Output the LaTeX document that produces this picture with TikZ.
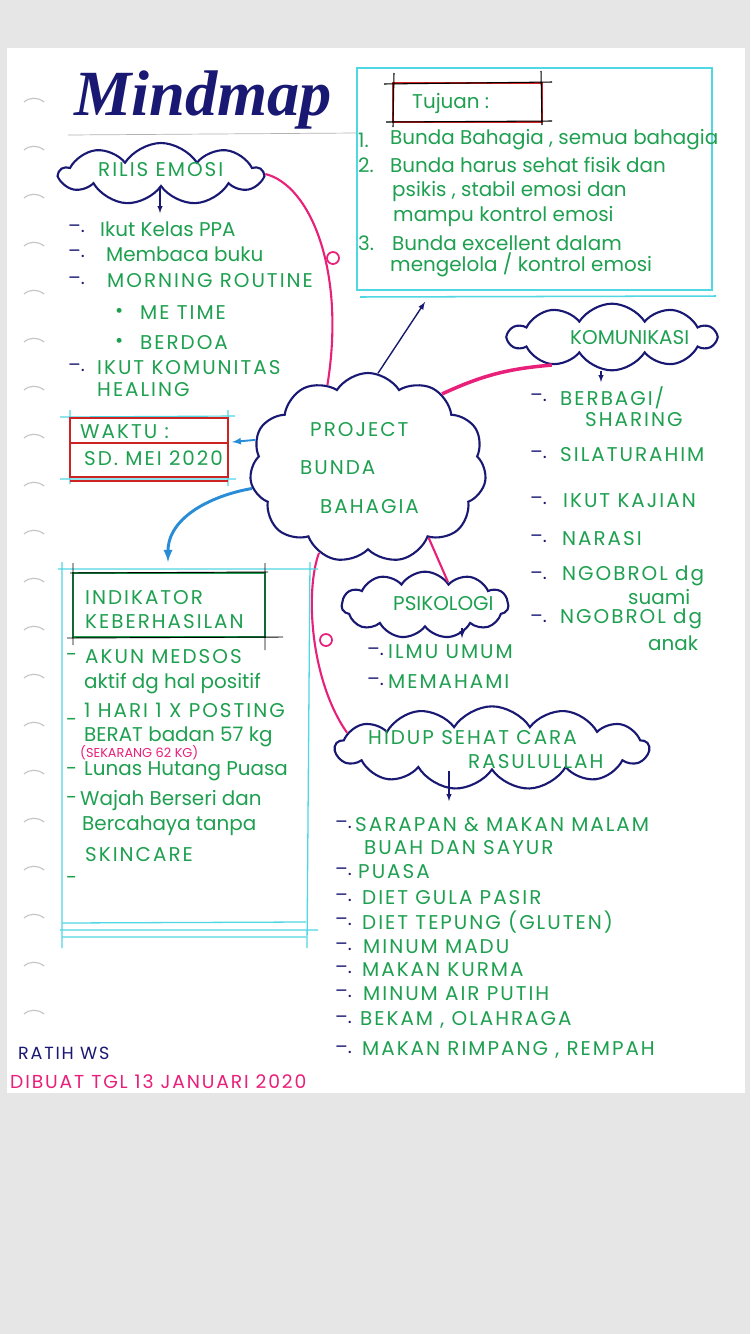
\documentclass[tikz,border=0pt]{standalone}
\usepackage{fontspec}
\setmainfont{Poppins}
\newfontfamily\judulfont{Liberation Serif}
\usetikzlibrary{shapes,arrows,positioning,calc}

\definecolor{hijau}{RGB}{30,160,80}
\definecolor{navy}{RGB}{25,25,115}
\definecolor{merahmuda}{RGB}{232,32,122}
\definecolor{toska}{RGB}{80,215,228}
\definecolor{birumuda}{RGB}{40,140,215}
\definecolor{merah}{RGB}{205,35,35}
\definecolor{abu}{RGB}{230,230,230}

\tikzset{
  awan/.style={cloud, cloud puffs=#1, cloud puff arc=115, aspect=3, draw=navy, line width=1.8pt, inner sep=0pt},
  awan/.default=10,
  teks/.style={anchor=west, inner sep=0pt, text=hijau, font=\fontsize{17}{19}\selectfont},
  kapital/.style={teks, font=\fontsize{17}{19}\selectfont\addfontfeature{LetterSpace=10}},
  strip/.style={anchor=west, inner sep=0pt, text=navy, font=\fontsize{16}{18}\selectfont},
  garispink/.style={merahmuda, line width=1.8pt},
  cincin/.style={circle, draw=merahmuda, line width=1.5pt, minimum size=0.36cm, inner sep=0pt},
  panahkecil/.style={-latex, navy, line width=1pt},
  panahbiru/.style={-latex, birumuda, line width=1.6pt},
}

\begin{document}
\begin{tikzpicture}[x=0.03cm, y=-0.03cm]
  \useasboundingbox (0,0) rectangle (750,1334);
  % kertas dan lubang binder
  \fill[abu] (0,0) rectangle (750,1334);
  \fill[white] (7,48) rectangle (745,1093);
  \foreach \yy in {102,150,...,1014}
    \draw[gray!45, line width=1pt] (24,\yy) .. controls (30,\yy-5) and (38,\yy-5) .. (44,\yy);

  % judul
  \node[anchor=west, inner sep=0pt, text=navy, font=\judulfont\bfseries\itshape\fontsize{55}{58}\selectfont] (judul) at (74,100) {Mindmap};
  \draw[gray!60, line width=0.6pt] (68,135) -- (357,133);

  % kotak tujuan
  \draw[toska, line width=1.3pt] (357,68) rectangle (712,290);
  \draw[toska, line width=1.3pt] (360,297) -- (716,296);
  \draw[merah, line width=1.3pt] (393,83) rectangle (542,122);
  \draw[black, line width=0.9pt] (384,84) -- (552,82) (386,122) -- (552,121) (394,73) -- (393,127) (541,71) -- (542,125);
  \node[teks] (tujuan) at (412,104) {Tujuan :};
  \foreach \y/\t in {140/1., 165/2., 243/3.}
    \node[teks] (tn\y) at (358,\y) {\t};
  \foreach \y/\x/\t in {140/390/{Bunda Bahagia , semua bahagia}, 165/390/{Bunda harus sehat fisik dan}, 192/392/{psikis , stabil emosi dan}, 217/393/{mampu kontrol emosi}, 243/392/{Bunda excellent dalam}, 265/390/{mengelola / kontrol emosi}}
    \node[teks] (tj\y) at (\x,\y) {\t};
  \coordinate (ujungtujuan) at (425,302);

  % awan-awan
  \node[awan=9, minimum width=6.06cm, minimum height=1.86cm] (rilis) at (161,174) {};
  \node[awan=11, aspect=1.3, minimum width=7.1cm, minimum height=5.7cm] (pusat) at (368,468) {};
  \node[awan=10, minimum width=6.2cm, minimum height=2cm] (komunikasi) at (612,337) {};
  \node[awan=11, minimum width=5cm, minimum height=2cm] (psikologi) at (425,605) {};
  \node[awan=13, minimum width=9.4cm, minimum height=2.5cm] (hidup) at (492,748) {};
  \node[kapital] (rilisteks) at (98,170) {RILIS EMOSI};
  \node[teks] (komteks) at (570,338) {KOMUNIKASI};
  \node[teks] (psiteks) at (393,604) {PSIKOLOGI};
  \node[kapital] (p1) at (310,430) {PROJECT};
  \node[kapital] (p2) at (300,468) {BUNDA};
  \node[kapital] (p3) at (320,507) {BAHAGIA};
  \node[kapital] (h1) at (368,738) {HIDUP SEHAT CARA};
  \node[kapital] (h2) at (468,762) {RASULULLAH};

  % penghubung
  \draw[garispink] (rilis.east) .. controls (310,185) and (346,270) .. (pusat.116);
  \node[cincin] (cincin1) at (333,258) {};
  \draw[garispink, line width=3pt] (pusat.45) to[bend left=10] (komunikasi.205);
  \draw[garispink] (pusat.311) -- (psikologi.45);
  \draw[garispink] (pusat.240) .. controls (305,590) and (310,680) .. (hidup.174);
  \node[cincin] (cincin2) at (326,640) {};
  \draw[panahkecil, line width=1.2pt] (pusat.84) -- (ujungtujuan);

  \coordinate (ujungrilis) at (160,213);
  \coordinate (ujungkom) at (601,382);
  \coordinate (ujungpsi) at (462,638);
  \coordinate (ujunghidup) at (449,801);
  \draw[panahkecil] (rilis.south -| ujungrilis) -- (ujungrilis);
  \draw[panahkecil] (komunikasi.south -| ujungkom) -- (ujungkom);
  \draw[panahkecil] (psikologi.south -| ujungpsi) -- (ujungpsi);
  \draw[panahkecil] (hidup.south -| ujunghidup) -- (ujunghidup);

  % daftar rilis emosi
  \foreach \y/\x/\t in {229/100/{Ikut Kelas PPA}, 254/106/{Membaca buku}}
    \node[teks] (ri\y) at (\x,\y) {\t};
  \foreach \y/\x/\t in {281/107/{MORNING ROUTINE}, 368/97/{IKUT KOMUNITAS}, 390/97/{HEALING}}
    \node[kapital] (ri\y) at (\x,\y) {\t};
  \foreach \y in {229,254,281,368}
    \node[strip] (rs\y) at (68,\y) {--.};
  \foreach \y/\t in {313/{ME TIME}, 343/{BERDOA}}{
    \node[teks] (rb\y) at (115,\y) {\textbullet};
    \node[kapital] (ri\y) at (140,\y) {\t};
  }

  % kotak waktu
  \coordinate (ujungwaktu) at (232,442);
  \draw[toska, line width=1pt] (60,417) -- (235,416) (60,479) -- (236,479) (70,410) -- (70,484) (228,410) -- (228,486);
  \draw[merah, line width=1.2pt] (70,418) rectangle (228,477);
  \draw[merah, line width=1.2pt] (70,443) -- (228,443) (70,481) -- (228,481);
  \node[kapital] (waktu) at (80,432) {WAKTU :};
  \node[kapital] (tanggal) at (84,458) {SD. MEI 2020};
  \draw[panahbiru] (pusat.166) -- (ujungwaktu);

  % kotak indikator
  \coordinate (ujungindikator) at (168,562);
  \draw[panahbiru, line width=2.5pt] (pusat.190) to[out=190, in=90] (ujungindikator);
  \draw[toska, line width=1.1pt] (62,562) -- (62,948) (310,562) -- (307,948) (58,569) -- (318,569);
  \draw[toska, line width=1.1pt] (62,923) -- (306,922) (60,930) -- (318,930) (62,937) -- (306,937);
  \draw[hijau, line width=1.3pt] (73,573) rectangle (265,637);
  \draw[black, line width=0.8pt] (70,573) -- (268,572) (67,638) -- (283,637) (73,563) -- (73,645) (265,563) -- (265,650);
  \node[kapital] (ind1) at (85,598) {INDIKATOR};
  \node[kapital] (ind2) at (85,622) {KEBERHASILAN};
  \foreach \y/\x/\t in {657/85/{AKUN MEDSOS}, 710/84/{1 HARI 1 X POSTING}, 855/85/{SKINCARE}}
    \node[kapital] (in\y) at (\x,\y) {\t};
  \foreach \y/\x/\t in {684/84/{aktif dg hal positif}, 737/84/{BERAT badan 57 kg}, 771/84/{Lunas Hutang Puasa}, 800/80/{Wajah Berseri dan}, 826/82/{Bercahaya tanpa}}
    \node[teks] (in\y) at (\x,\y) {\t};
  \foreach \y in {657,722,771,800,880}
    \node[teks] (is\y) at (66,\y) {-};
  \node[teks, text=merahmuda, font=\fontsize{11}{12}\selectfont] (sekarang) at (80,753) {(SEKARANG 62 KG)};

  % daftar komunikasi
  \foreach \y/\x/\t in {398/560/{BERBAGI/}, 420/585/{SHARING}, 455/560/{SILATURAHIM}, 501/563/{IKUT KAJIAN}, 539/562/{NARASI}, 576/562/{NGOBROL dg}, 619/560/{NGOBROL dg}}
    \node[kapital] (ko\y) at (\x,\y) {\t};
  \foreach \y/\x/\t in {597/628/{suami}, 643/648/{anak}}
    \node[teks] (ko\y) at (\x,\y) {\t};
  \foreach \y in {398,455,501,539,576,619}
    \node[strip] (ks\y) at (530,\y) {--.};

  % daftar psikologi
  \foreach \y/\t in {652/{ILMU UMUM}, 682/{MEMAHAMI}}{
    \node[strip] (ps\y) at (367,\y) {--.};
    \node[kapital] (pi\y) at (388,\y) {\t};
  }

  % daftar hidup sehat
  \foreach \y/\x/\t in {825/355/{SARAPAN \& MAKAN MALAM}, 848/364/{BUAH DAN SAYUR}, 872/358/{PUASA}, 898/362/{DIET GULA PASIR}, 922/362/{DIET TEPUNG (GLUTEN)}, 947/363/{MINUM MADU}, 970/362/{MAKAN KURMA}, 994/363/{MINUM AIR PUTIH}, 1020/360/{BEKAM , OLAHRAGA}, 1050/362/{MAKAN RIMPANG , REMPAH}}
    \node[kapital] (hi\y) at (\x,\y) {\t};
  \foreach \y in {825,872,898,922,947,970,994,1020,1050}
    \node[strip] (hs\y) at (335,\y) {--.};

  % tanda tangan
  \node[kapital, text=navy, font=\fontsize{15}{16}\selectfont\addfontfeature{LetterSpace=10}] (nama) at (18,1053) {RATIH WS};
  \node[kapital, text=merahmuda, font=\fontsize{16}{17}\selectfont\addfontfeature{LetterSpace=10}] (dibuat) at (10,1082) {DIBUAT TGL 13 JANUARI 2020};
\end{tikzpicture}
\end{document}
